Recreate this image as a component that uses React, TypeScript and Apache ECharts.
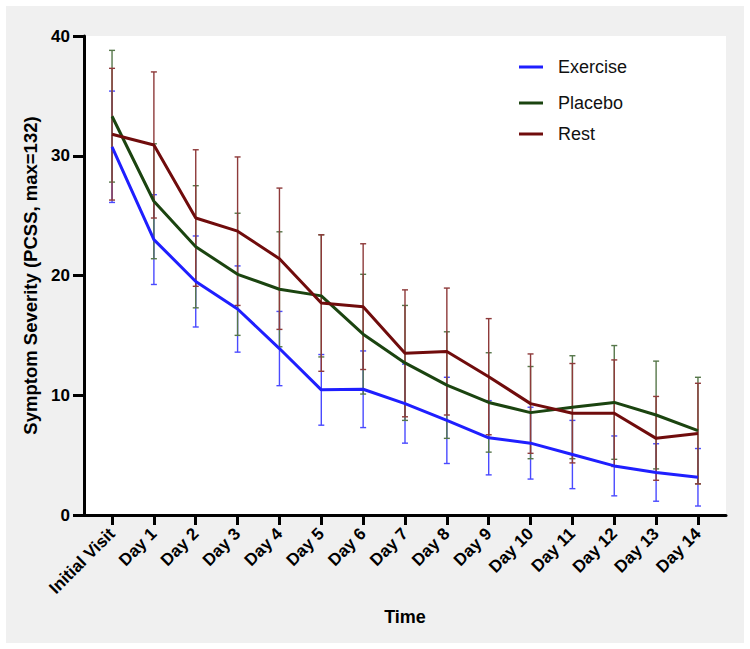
import React, { useEffect, useRef } from "react";
import * as echarts from "echarts";

const categories = ["Initial Visit", "Day 1", "Day 2", "Day 3", "Day 4", "Day 5", "Day 6", "Day 7", "Day 8", "Day 9", "Day 10", "Day 11", "Day 12", "Day 13", "Day 14"];
const yTicks = [0, 10, 20, 30, 40];

const exerciseMean = [30.75, 23.0, 19.5, 17.2, 13.9, 10.45, 10.5, 9.3, 7.9, 6.45, 6.0, 5.05, 4.1, 3.55, 3.15];
const exerciseSD = [4.65, 3.75, 3.8, 3.6, 3.1, 2.95, 3.2, 3.3, 3.6, 3.1, 3.0, 2.85, 2.5, 2.4, 2.4];
const placeboMean = [33.3, 26.2, 22.4, 20.1, 18.85, 18.3, 15.1, 12.7, 10.85, 9.4, 8.55, 9.0, 9.4, 8.35, 7.05];
const placeboSD = [5.5, 4.8, 5.1, 5.1, 4.8, 5.1, 5.0, 4.8, 4.45, 4.15, 3.85, 4.3, 4.75, 4.5, 4.45];
const restMean = [31.8, 30.9, 24.8, 23.7, 21.4, 17.7, 17.4, 13.5, 13.65, 11.55, 9.3, 8.5, 8.5, 6.4, 6.8];
const restSD = [5.5, 6.1, 5.7, 6.2, 5.9, 5.7, 5.25, 5.3, 5.3, 4.85, 4.15, 4.15, 4.45, 3.5, 4.2];

const FONT = '"Liberation Sans", Arial, sans-serif';

const groups = [
  { name: "Exercise", mean: exerciseMean, sd: exerciseSD, color: "#1f1fff", errColor: "#4a4aff" },
  { name: "Placebo", mean: placeboMean, sd: placeboSD, color: "#1b4410", errColor: "#56774a" },
  { name: "Rest", mean: restMean, sd: restSD, color: "#700c0c", errColor: "#8e3a3a" },
];

export default function App() {
  const ref = useRef<HTMLDivElement>(null);
  useEffect(() => {
    if (!ref.current) return;
    const chart = echarts.init(ref.current, null, { renderer: "svg" });
    const idx = categories.map((_, i) => i);

    const errSeries = groups.map((g) => ({
      type: "custom",
      name: g.name + " SD",
      z: 1,
      encode: { x: 0, y: [1, 2] },
      data: g.mean.map((m, i) => [i, m - g.sd[i], m + g.sd[i]]),
      renderItem: (params: any, api: any) => {
        const x = api.value(0);
        const top = api.coord([x, api.value(2)]);
        const bot = api.coord([x, api.value(1)]);
        const cw = 3;
        const style = { stroke: g.errColor, lineWidth: 1.4 };
        return {
          type: "group",
          children: [
            { type: "line", shape: { x1: top[0], y1: top[1], x2: bot[0], y2: bot[1] }, style },
            { type: "line", shape: { x1: top[0] - cw, y1: top[1], x2: top[0] + cw, y2: top[1] }, style },
            { type: "line", shape: { x1: bot[0] - cw, y1: bot[1], x2: bot[0] + cw, y2: bot[1] }, style },
          ],
        };
      },
    }));

    const lineSeries = groups.map((g) => ({
      type: "line",
      name: g.name,
      z: 3,
      symbol: "none",
      lineStyle: { color: g.color, width: 3 },
      itemStyle: { color: g.color },
      data: g.mean.map((m, i) => [i, m]),
    }));

    const legendTops = [58, 94, 125];
    const legends = groups.map((g, i) => ({
      data: [g.name],
      left: 519,
      top: legendTops[i],
      padding: 0,
      icon: "rect",
      itemWidth: 24,
      itemHeight: 3,
      textStyle: { fontFamily: FONT, fontSize: 18, color: "#111", padding: [0, 0, 0, 10] },
    }));

    chart.setOption({
      animation: false,
      backgroundColor: "transparent",
      legend: legends,
      grid: {
        left: 84,
        right: 24,
        top: 36,
        bottom: 134,
        show: true,
        backgroundColor: "#ffffff",
        borderWidth: 0,
      },
      xAxis: {
        type: "value",
        min: -0.67,
        max: 14.67,
        name: "Time",
        nameLocation: "middle",
        nameGap: 93,
        nameTextStyle: { fontFamily: FONT, fontSize: 18, fontWeight: "bold", color: "#000" },
        axisLine: { show: true, lineStyle: { color: "#000", width: 3 } },
        axisTick: { show: true, length: 10, lineStyle: { color: "#000", width: 3 }, customValues: idx },
        axisLabel: {
          customValues: idx,
          rotate: 45,
          margin: 16,
          fontFamily: FONT,
          fontSize: 17,
          fontWeight: "bold",
          color: "#000",
          formatter: (v: number) => categories[Math.round(v)] ?? "",
        },
        splitLine: { show: false },
      },
      yAxis: {
        type: "value",
        min: 0,
        max: 40,
        interval: 10,
        name: "Symptom Severity (PCSS, max=132)",
        nameLocation: "middle",
        nameGap: 38,
        nameTextStyle: { fontFamily: FONT, fontSize: 18.5, fontWeight: "bold", color: "#000" },
        axisLine: { show: true, onZero: false, lineStyle: { color: "#000", width: 3 } },
        axisTick: { show: true, length: 11, lineStyle: { color: "#000", width: 3 } },
        axisLabel: {
          margin: 14,
          fontFamily: FONT,
          fontSize: 17,
          fontWeight: "bold",
          color: "#000",
          customValues: yTicks,
        },
        splitLine: { show: false },
      },
      series: [...errSeries, ...lineSeries],
    });
    return () => chart.dispose();
  }, []);

  return (
    <div style={{ position: "fixed", left: 0, top: 0, width: 750, height: 649, background: "#ffffff" }}>
      <div style={{ position: "absolute", left: 6, top: 6, width: 738, height: 637, background: "#f0f0f0" }} />
      <div ref={ref} style={{ position: "absolute", left: 0, top: 0, width: 750, height: 649 }} />
    </div>
  );
}
